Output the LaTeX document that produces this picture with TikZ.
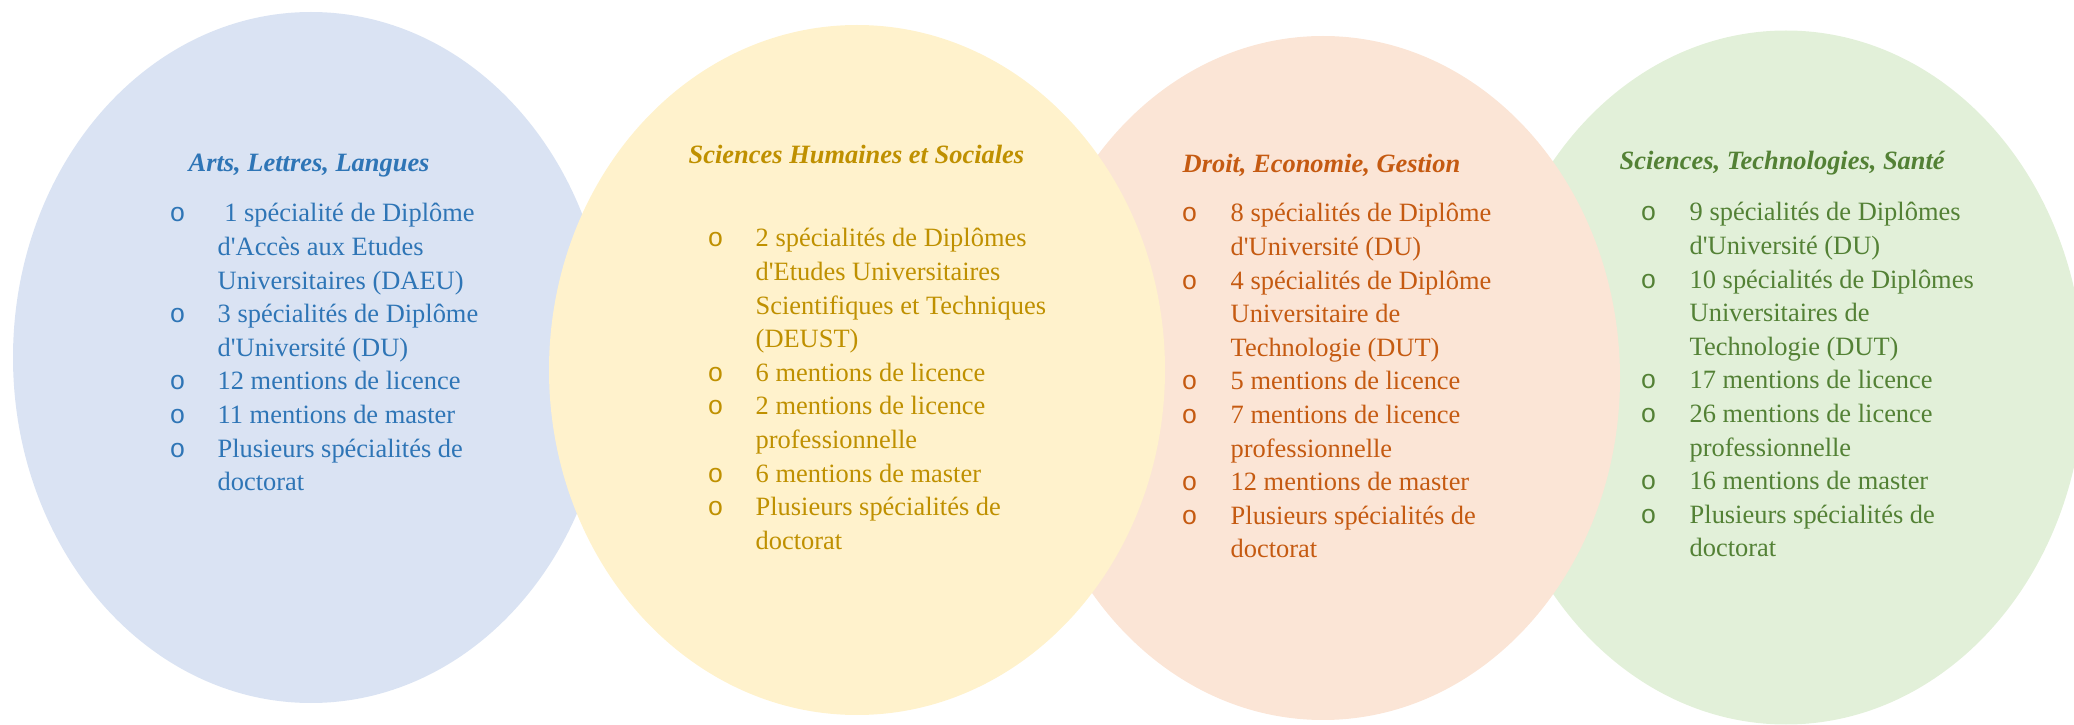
\documentclass[tikz,border=0pt]{standalone}
\usepackage{fontspec}
\setmainfont{Liberation Serif}[Ligatures=TeXOff]
\newfontfamily\bulfont{Liberation Mono}
\usepackage{array}
\usepackage{tikz}

\definecolor{alFill}{HTML}{DAE3F3}
\definecolor{alText}{HTML}{2E75B6}
\definecolor{shsFill}{HTML}{FFF2CC}
\definecolor{shsText}{HTML}{BF9000}
\definecolor{degFill}{HTML}{FBE5D6}
\definecolor{degText}{HTML}{C55A11}
\definecolor{stsFill}{HTML}{E2F0D9}
\definecolor{stsText}{HTML}{538135}

\newcommand{\bul}{{\bulfont o}}

\begin{document}
\begin{tikzpicture}[
    ttl/.style={anchor=base west, inner sep=0pt, font=\fontsize{7.52}{9.56}\selectfont\bfseries\itshape},
    lst/.style={anchor=base west, inner sep=0pt, font=\fontsize{7.52}{9.56}\selectfont}]
    \useasboundingbox (0,0) rectangle (20.74,7.24);
    \clip (0,0) rectangle (20.74,7.24);

    % Ovals (back to front)
    \fill[alFill] (3.11,3.665) ellipse (2.98 and 3.455);
    \fill[stsFill] (17.86,3.465) ellipse (2.98 and 3.47);
    \fill[degFill] (13.23,3.46) ellipse (2.97 and 3.42);
    \fill[shsFill] (8.57,3.54) ellipse (3.08 and 3.45);

    % Arts, Lettres, Langues
    \node[ttl, text=alText] (alTitle) at (1.88,5.52) {Arts, Lettres, Langues};
    \node[lst, text=alText] (alList) at (1.69,5.02) {%
        \begin{tabular}[t]{@{}w{l}{0.48cm}@{}l@{}}
        \bul & \ 1 spécialité de Diplôme\\
             & d'Accès aux Etudes\\
             & Universitaires (DAEU)\\
        \bul & 3 spécialités de Diplôme\\
             & d'Université (DU)\\
        \bul & 12 mentions de licence\\
        \bul & 11 mentions de master\\
        \bul & Plusieurs spécialités de\\
             & doctorat
        \end{tabular}};

    % Sciences Humaines et Sociales
    \node[ttl, text=shsText] (shsTitle) at (6.88,5.60) {Sciences Humaines et Sociales};
    \node[lst, text=shsText] (shsList) at (7.07,4.77) {%
        \begin{tabular}[t]{@{}w{l}{0.48cm}@{}l@{}}
        \bul & 2 spécialités de Diplômes\\
             & d'Etudes Universitaires\\
             & Scientifiques et Techniques\\
             & (DEUST)\\
        \bul & 6 mentions de licence\\
        \bul & 2 mentions de licence\\
             & professionnelle\\
        \bul & 6 mentions de master\\
        \bul & Plusieurs spécialités de\\
             & doctorat
        \end{tabular}};

    % Droit, Economie, Gestion
    \node[ttl, text=degText] (degTitle) at (11.82,5.51) {Droit, Economie, Gestion};
    \node[lst, text=degText] (degList) at (11.81,5.02) {%
        \begin{tabular}[t]{@{}w{l}{0.49cm}@{}l@{}}
        \bul & 8 spécialités de Diplôme\\
             & d'Université (DU)\\
        \bul & 4 spécialités de Diplôme\\
             & Universitaire de\\
             & Technologie (DUT)\\
        \bul & 5 mentions de licence\\
        \bul & 7 mentions de licence\\
             & professionnelle\\
        \bul & 12 mentions de master\\
        \bul & Plusieurs spécialités de\\
             & doctorat
        \end{tabular}};

    % Sciences, Technologies, Sante
    \node[ttl, text=stsText] (stsTitle) at (16.19,5.54) {Sciences, Technologies, Santé};
    \node[lst, text=stsText] (stsList) at (16.40,5.03) {%
        \begin{tabular}[t]{@{}w{l}{0.49cm}@{}l@{}}
        \bul & 9 spécialités de Diplômes\\
             & d'Université (DU)\\
        \bul & 10 spécialités de Diplômes\\
             & Universitaires de\\
             & Technologie (DUT)\\
        \bul & 17 mentions de licence\\
        \bul & 26 mentions de licence\\
             & professionnelle\\
        \bul & 16 mentions de master\\
        \bul & Plusieurs spécialités de\\
             & doctorat
        \end{tabular}};
\end{tikzpicture}
\end{document}
